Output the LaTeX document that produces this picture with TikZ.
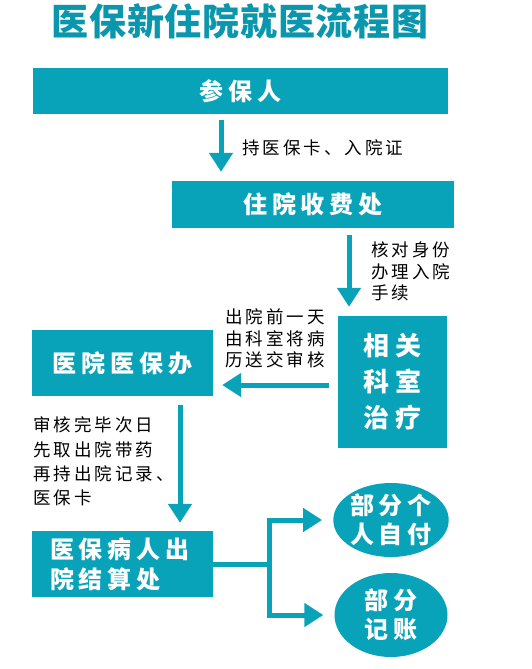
\documentclass[tikz,border=0pt]{standalone}
\usepackage{fontspec}
\usepackage{xcolor}
\usetikzlibrary{arrows.meta}
\usetikzlibrary{shapes.geometric}
\definecolor{myteal}{RGB}{8,162,185}
\definecolor{mytitle}{RGB}{10,150,172}
\newfontfamily\boxfont[LetterSpace=20]{Noto Sans CJK SC}
\newfontfamily\notefont[LetterSpace=17]{Noto Sans CJK SC}
\newfontfamily\titlefont[LetterSpace=2]{Noto Sans CJK SC}

\tikzset{
box/.style={fill=myteal, text=white, inner sep=0, font=\boxfont\bfseries\fontsize{24}{30}\selectfont},
oval/.style={ellipse, fill=myteal, text=white, inner sep=0, align=center, font=\boxfont\bfseries\fontsize{24}{29}\selectfont},
note/.style={anchor=west, inner sep=0, align=left, font=\notefont\fontsize{17.5}{21.5}\selectfont},
flow/.style={draw=myteal, line width=5pt, -{Triangle[width=23pt,length=19pt]}},
}

\begin{document}
\begin{tikzpicture}[x=1pt,y=-1pt]
\useasboundingbox (0,0) rectangle (531,669);

% title
\node[font=\titlefont\bfseries\fontsize{37}{40}\selectfont, text=mytitle] (title) at (240,21) {医保新住院就医流程图};

% boxes
\node[box, minimum width=415pt, minimum height=46pt] (canbao) at (240.5,91) {参保人};
\node[box, minimum width=282pt, minimum height=47pt] (zhuyuan) at (313,204.5) {住院收费处};
\node[box, minimum width=109pt, minimum height=132pt, align=center, font=\boxfont\bfseries\fontsize{26}{36}\selectfont] (keshi) at (392.5,382) {相关\\科室\\治疗};
\node[box, minimum width=181pt, minimum height=66pt] (yibaoban) at (122.5,363) {医院医保办};
\node[box, minimum width=181pt, minimum height=66pt, align=left, text width=145pt, inner xsep=18pt] (jiesuan) at (122.5,564) {医保病人出\\院结算处};
\node[oval, minimum width=113pt, minimum height=74pt] (zifu) at (391,520) {部分个\\人自付};
\node[oval, minimum width=113pt, minimum height=84pt] (jizhang) at (391,615) {部分\\记账};

% notes
\node[note] (n1) at (242,148) {持医保卡、入院证};
\node[note] (n2) at (371,271.5) {核对身份\\办理入院\\手续};
\node[note] (n3) at (225,338.5) {出院前一天\\由科室将病\\历送交审核};
\node[note, font=\notefont\fontsize{17.5}{24.3}\selectfont] (n4) at (33,461.5) {审核完毕次日\\先取出院带药\\再持出院记录、\\医保卡};

% arrows
\coordinate (c1) at (221,0);
\coordinate (c2) at (349,0);
\coordinate (c3) at (0,385);
\coordinate (c4) at (180,0);
\coordinate (fork) at (269,0);
\draw[flow, shorten <=6pt, shorten >=9pt] (canbao.south -| c1) -- (zhuyuan.north -| c1);
\draw[flow, shorten <=7pt, shorten >=9pt] (zhuyuan.south -| c2) -- (keshi.north -| c2);
\draw[flow, shorten <=9pt, shorten >=9pt] (keshi.west |- c3) -- (yibaoban.east |- c3);
\draw[flow, shorten <=9pt, shorten >=8pt] (yibaoban.south -| c4) -- (jiesuan.north -| c4);
\draw[flow, shorten >=11pt] (jiesuan.east) -- (jiesuan.east -| fork) |- (zifu.west);
\draw[flow, shorten >=11pt] (jiesuan.east) -- (jiesuan.east -| fork) |- (jizhang.west);

\end{tikzpicture}
\end{document}
